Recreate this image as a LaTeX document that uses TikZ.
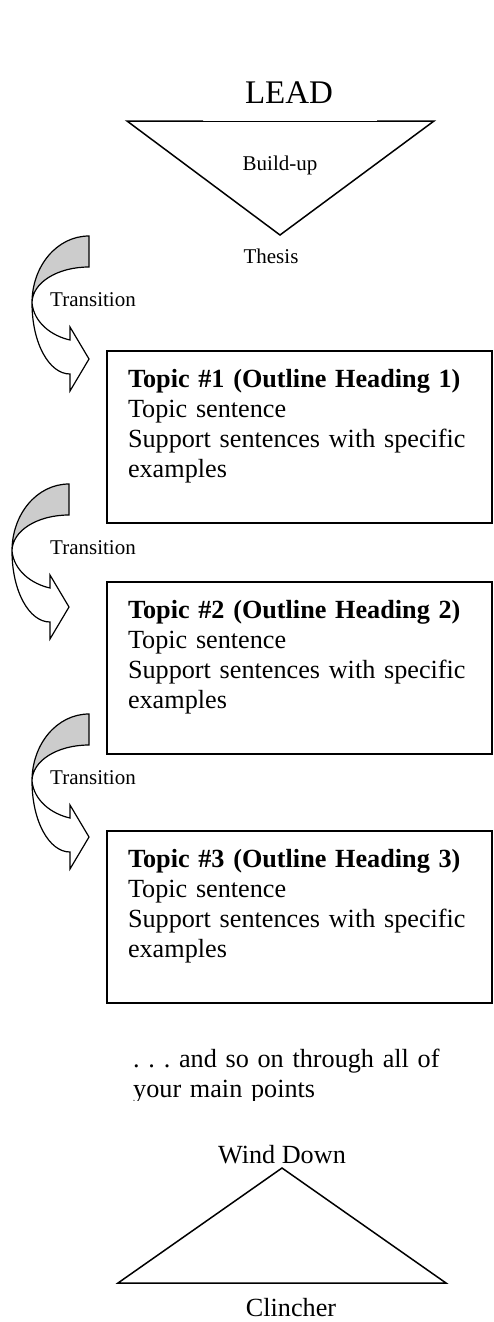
\documentclass[tikz,border=0pt]{standalone}
\usepackage{fontspec}
\setmainfont{Liberation Serif}
\usetikzlibrary{calc, positioning}
\tikzset{
    bigtext/.style={inner sep=0pt, font=\fontsize{33}{38}\selectfont},
    bodytext/.style={inner sep=0pt, font=\fontsize{26.2}{30}\selectfont\frenchspacing},
    smalltext/.style={inner sep=0pt, font=\fontsize{21}{24}\selectfont},
    funnel/.style={draw=black, line width=1.5pt, line join=miter},
    topicbox/.style={rectangle, draw=black, line width=2pt, outer sep=0pt, anchor=north west, align=left, text width=343pt, inner xsep=21pt, inner ysep=18pt, text height=18pt, text depth=118pt, font=\fontsize{26.2}{30}\selectfont},
    bandback/.style={draw=black, line width=1.2pt, fill=gray!40},
    bandfront/.style={draw=black, line width=1.2pt, fill=white, line join=miter}
}

\begin{document}
\begin{tikzpicture}[x=1pt, y=-1pt]
    \useasboundingbox (0,0) rectangle (494,1322);

    % Lead funnel
    \coordinate (leadL) at (127,121);
    \coordinate (leadML) at (203,121);
    \coordinate (leadMR) at (377,121);
    \coordinate (leadR) at (434,121);
    \coordinate (thesisTip) at (280,235);
    \draw[funnel] (leadML) -- (leadL) -- (thesisTip) -- (leadR) -- (leadMR);
    \draw[black, line width=0.6pt] (leadML) -- (leadMR);
    \node[bigtext, anchor=base] (lead) at (289,103) {LEAD};
    \node[smalltext, anchor=base] (buildup) at (280,170) {Build-up};
    \node[smalltext, anchor=base] (thesis) at (271,263) {Thesis};

    % Transitions
    \foreach \x/\y/\n in {32/303/1, 12/551/2, 32/781/3} {
        \begin{scope}[shift={(\x,\y)}]
            \filldraw[bandback] (57,-67) .. controls (25,-67) and (0,-37) .. (0,0) .. controls (0,-20) and (25,-36) .. (57,-36) -- cycle;
            \filldraw[bandfront] (0,0) .. controls (2,20) and (20,33) .. (38,37) -- (38,24) -- (57,56) -- (38,88) -- (38,71) .. controls (17,71) and (0,40) .. (0,0) -- cycle;
        \end{scope}
        \node[smalltext, anchor=base west] (trans\n) at (50,\y+3) {Transition};
    }

    % Topic boxes
    \foreach \n/\y in {1/351, 2/582, 3/831} {
        \node[topicbox] (topic\n) at (107,\y) {\textbf{Topic \#\n\ (Outline Heading \n)}\\Topic sentence\\\mbox{Support sentences with specific}\\examples};
    }

    % Wind down
    \begin{scope}
        \clip (0,1000) rectangle (494,1100);
        \node[bodytext, anchor=base west, text width=340pt, align=left] (soon) at (133,1067) {. . . and so on through all of\\your main points};
    \end{scope}
    \coordinate (windL) at (118,1283);
    \coordinate (windR) at (446,1283);
    \coordinate (windTop) at (282,1168);
    \draw[funnel] (windL) -- (windTop) -- (windR) -- cycle;
    \node[bodytext, anchor=base] (wind) at (282,1163) {Wind Down};
    \node[bodytext, anchor=base] (clincher) at (291,1316) {Clincher};
\end{tikzpicture}
\end{document}
